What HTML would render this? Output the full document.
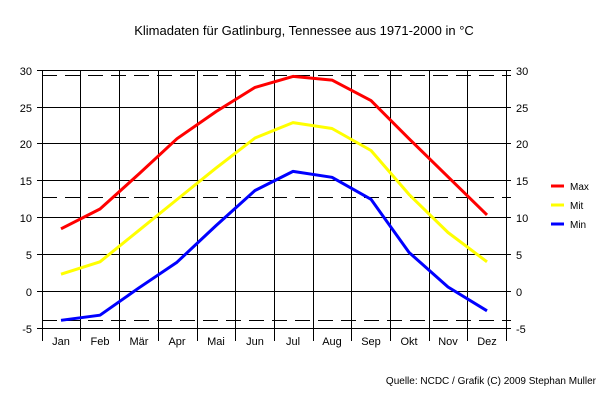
<!DOCTYPE html>
<html><head><meta charset="utf-8"><style>
html,body{margin:0;padding:0;background:#fff;}
svg text{font-family:"Liberation Sans",sans-serif;font-size:11px;fill:#000;}
</style></head><body>
<svg width="609" height="409" xmlns="http://www.w3.org/2000/svg">
<rect width="609" height="409" fill="#fff"/>
<text x="304" y="35" text-anchor="middle" style="font-size:13px">Klimadaten für Gatlinburg, Tennessee aus 1971-2000 in °C</text>
<g stroke="#000" stroke-width="1" shape-rendering="crispEdges">
<line x1="37" y1="70.5" x2="511" y2="70.5"/>
<line x1="37" y1="107.5" x2="511" y2="107.5"/>
<line x1="37" y1="143.5" x2="511" y2="143.5"/>
<line x1="37" y1="180.5" x2="511" y2="180.5"/>
<line x1="37" y1="217.5" x2="511" y2="217.5"/>
<line x1="37" y1="254.5" x2="511" y2="254.5"/>
<line x1="37" y1="291.5" x2="511" y2="291.5"/>
<line x1="37" y1="328.5" x2="511" y2="328.5"/>
<line x1="42.5" y1="70" x2="42.5" y2="341"/>
<line x1="80.5" y1="70" x2="80.5" y2="341"/>
<line x1="119.5" y1="70" x2="119.5" y2="341"/>
<line x1="158.5" y1="70" x2="158.5" y2="341"/>
<line x1="197.5" y1="70" x2="197.5" y2="341"/>
<line x1="235.5" y1="70" x2="235.5" y2="341"/>
<line x1="274.5" y1="70" x2="274.5" y2="341"/>
<line x1="313.5" y1="70" x2="313.5" y2="341"/>
<line x1="351.5" y1="70" x2="351.5" y2="341"/>
<line x1="390.5" y1="70" x2="390.5" y2="341"/>
<line x1="429.5" y1="70" x2="429.5" y2="341"/>
<line x1="467.5" y1="70" x2="467.5" y2="341"/>
<line x1="506.5" y1="70" x2="506.5" y2="341"/>
</g>
<g stroke="#000" stroke-width="1" stroke-dasharray="15,8" shape-rendering="crispEdges">
<line x1="42" y1="75.5" x2="511" y2="75.5"/>
<line x1="42" y1="197.5" x2="511" y2="197.5"/>
<line x1="42" y1="320.5" x2="511" y2="320.5"/>
</g>
<g text-anchor="end">
<text x="32" y="75">30</text><text x="32" y="112">25</text><text x="32" y="148">20</text><text x="32" y="185">15</text><text x="32" y="222">10</text><text x="32" y="259">5</text><text x="32" y="296">0</text><text x="32" y="333">-5</text>
</g>
<g>
<text x="516" y="75">30</text><text x="516" y="112">25</text><text x="516" y="148">20</text><text x="516" y="185">15</text><text x="516" y="222">10</text><text x="516" y="259">5</text><text x="516" y="296">0</text><text x="516" y="333">-5</text>
</g>
<g text-anchor="middle">
<text x="61" y="345">Jan</text><text x="100" y="345">Feb</text><text x="139" y="345">Mär</text><text x="177" y="345">Apr</text><text x="216" y="345">Mai</text><text x="255" y="345">Jun</text><text x="293" y="345">Jul</text><text x="332" y="345">Aug</text><text x="371" y="345">Sep</text><text x="409" y="345">Okt</text><text x="448" y="345">Nov</text><text x="487" y="345">Dez</text>
</g>
<g fill="none" stroke-width="3" stroke-linejoin="round">
<polyline stroke="#ff0000" points="61,228.8 100,209 139,173.9 177,138.7 216,111.6 255,87.4 293,76.4 332,80.1 371,100.6 409,138.7 448,176.8 487,214.9"/>
<polyline stroke="#ffff00" points="61,274.2 100,261.8 139,230.3 177,199.5 216,168.1 255,138 293,122.6 332,128.5 371,150.5 409,194.4 448,232.5 487,261.8"/>
<polyline stroke="#0000ff" points="61,320.3 100,315.2 139,287.8 177,262.2 216,225.6 255,190.5 293,171.4 332,177.3 371,199.3 409,252.4 448,287 487,310.8"/>
</g>
<line x1="551" y1="186" x2="564" y2="186" stroke="#ff0000" stroke-width="3"/>
<line x1="551" y1="205" x2="564" y2="205" stroke="#ffff00" stroke-width="3"/>
<line x1="551" y1="224" x2="564" y2="224" stroke="#0000ff" stroke-width="3"/>
<text x="570" y="190" style="font-size:10px">Max</text>
<text x="570" y="209" style="font-size:10px">Mit</text>
<text x="570" y="228" style="font-size:10px">Min</text>
<text x="596" y="384" text-anchor="end" style="font-size:10px">Quelle: NCDC / Grafik (C) 2009 Stephan Muller</text>
</svg>
</body></html>
